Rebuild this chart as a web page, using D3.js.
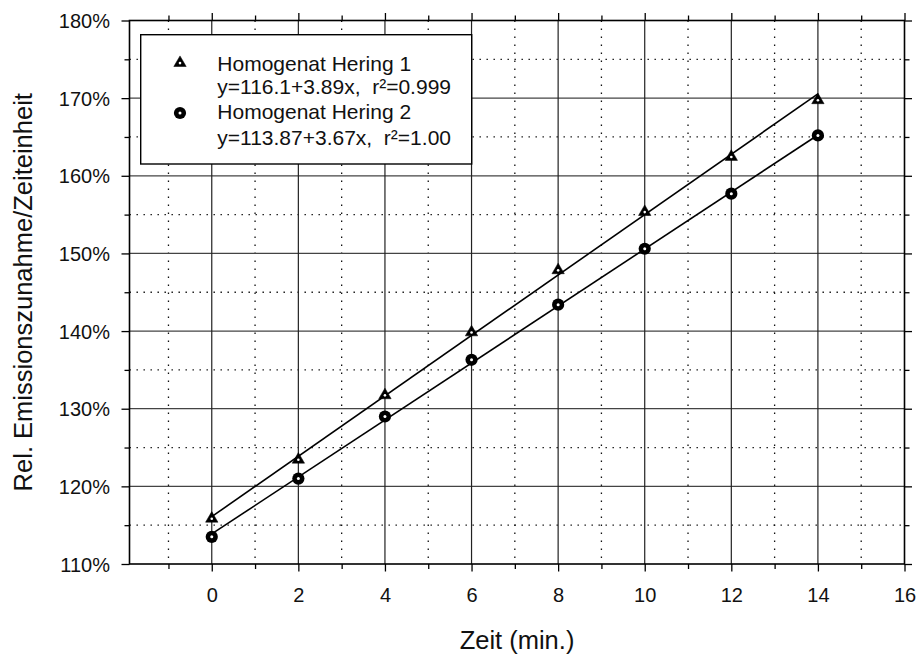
<!DOCTYPE html>
<html>
<head>
<meta charset="utf-8">
<script src="https://cdn.jsdelivr.net/npm/d3@7/dist/d3.min.js"></script>
<style>
  html, body { margin: 0; padding: 0; background: #fff; }
  svg { display: block; font-family: "Liberation Sans", Arial, sans-serif; }
  .keep-space { white-space: pre; }
</style>
</head>
<body>
<svg id="chart" width="920" height="655"></svg>
<script>
// Measurement times (min.)
const times = [0, 2, 4, 6, 8, 10, 12, 14];
// Relative emission increase per time unit (%)
const hering1 = [115.9, 123.5, 131.8, 139.9, 147.9, 155.4, 162.5, 169.8];
const hering2 = [113.5, 121.0, 129.0, 136.3, 143.4, 150.6, 157.7, 165.2];
// Linear fits y = a + b·x
const fitIntercepts = [116.1, 113.87];
const fitSlopes = [3.89, 3.67];
const seriesNames = ["Homogenat Hering 1", "Homogenat Hering 2"];
const fitLabels = ["y=116.1+3.89x,\u00A0 r\u00B2=0.999", "y=113.87+3.67x,\u00A0 r\u00B2=1.00"];
// Axis ticks
const xMajorTicks = [0, 2, 4, 6, 8, 10, 12, 14, 16];
const xMinorTicks = [-1, 1, 3, 5, 7, 9, 11, 13, 15];
const yMajorTicks = [110, 120, 130, 140, 150, 160, 170, 180];
const yMinorTicks = [115, 125, 135, 145, 155, 165, 175];
const xTitle = "Zeit (min.)";
const yTitle = "Rel. Emissionszunahme/Zeiteinheit";

const svg = d3.select("#chart");
const L = 129.5, R = 904.5, T = 20.5, B = 564;

const x = d3.scaleLinear().domain([-1.9, 16]).range([L, R]);
const y = d3.scaleLinear().domain([110, 180]).range([B, T]);

// Grid
const grid = svg.append("g");
grid.selectAll(".hmin").data(yMinorTicks).join("line")
  .attr("x1", L).attr("x2", R).attr("y1", d => y(d)).attr("y2", d => y(d))
  .attr("stroke", "#111").attr("stroke-width", 1.3).attr("stroke-dasharray", "1.4,5.6");
grid.selectAll(".vmin").data(xMinorTicks).join("line")
  .attr("y1", T).attr("y2", B).attr("x1", d => x(d)).attr("x2", d => x(d))
  .attr("stroke", "#111").attr("stroke-width", 1.3).attr("stroke-dasharray", "1.4,6.6");
grid.selectAll(".hmaj").data(yMajorTicks.filter(d => d > 110 && d < 180)).join("line")
  .attr("x1", L).attr("x2", R).attr("y1", d => y(d)).attr("y2", d => y(d))
  .attr("stroke", "#444").attr("stroke-width", 1.3);
grid.selectAll(".vmaj").data(xMajorTicks.filter(d => d < 16)).join("line")
  .attr("y1", T).attr("y2", B).attr("x1", d => x(d)).attr("x2", d => x(d))
  .attr("stroke", "#222").attr("stroke-width", 1.2);

// Axes (ticks outward on all four sides)
function styleAxis(g) {
  g.select(".domain").remove();
  g.selectAll(".tick line").attr("stroke", "#000").attr("stroke-width", 1.3);
  g.selectAll(".tick text").attr("fill", "#111");
}
const gBottom = svg.append("g").attr("transform", `translate(0,${B})`)
  .call(d3.axisBottom(x).tickValues(xMajorTicks).tickSize(7.5).tickFormat(d3.format("d")))
  .call(styleAxis);
gBottom.selectAll(".tick text").attr("y", 38).attr("dy", 0).attr("font-size", 20);
svg.append("g").attr("transform", `translate(0,${B})`)
  .call(d3.axisBottom(x).tickValues(xMinorTicks).tickSize(5).tickFormat(""))
  .call(styleAxis);
svg.append("g").attr("transform", `translate(0,${T})`)
  .call(d3.axisTop(x).tickValues(xMajorTicks).tickSize(7.5).tickFormat(""))
  .call(styleAxis);
svg.append("g").attr("transform", `translate(0,${T})`)
  .call(d3.axisTop(x).tickValues(xMinorTicks).tickSize(5).tickFormat(""))
  .call(styleAxis);
const gLeft = svg.append("g").attr("transform", `translate(${L},0)`)
  .call(d3.axisLeft(y).tickValues(yMajorTicks).tickSize(8).tickFormat(d => d + "%"))
  .call(styleAxis);
gLeft.selectAll(".tick text").attr("x", -19.5).attr("dy", "0.36em").attr("font-size", 20);
svg.append("g").attr("transform", `translate(${L},0)`)
  .call(d3.axisLeft(y).tickValues(yMinorTicks).tickSize(5).tickFormat(""))
  .call(styleAxis);
svg.append("g").attr("transform", `translate(${R},0)`)
  .call(d3.axisRight(y).tickValues(yMajorTicks).tickSize(7.5).tickFormat(""))
  .call(styleAxis);
svg.append("g").attr("transform", `translate(${R},0)`)
  .call(d3.axisRight(y).tickValues(yMinorTicks).tickSize(5).tickFormat(""))
  .call(styleAxis);

// Plot frame
svg.append("rect").attr("x", L).attr("y", T).attr("width", R - L).attr("height", B - T)
  .attr("fill", "none").attr("stroke", "#000").attr("stroke-width", 1.6);

// Fit lines
const line = d3.line().x(d => x(d[0])).y(d => y(d[1]));
[0, 1].forEach(i => {
  const xs = [times[0], times[times.length - 1]];
  svg.append("path")
    .attr("d", line(xs.map(t => [t, fitIntercepts[i] + fitSlopes[i] * t])))
    .attr("fill", "none").attr("stroke", "#000").attr("stroke-width", 1.6);
});

// Markers
const triPath = "M0,-6.6 L6.2,4.0 L-6.2,4.0 Z";
function drawTriangle(g, cx, cy) {
  g.append("path").attr("d", triPath).attr("transform", `translate(${cx},${cy})`)
    .attr("fill", "#000").attr("stroke", "#000").attr("stroke-width", 0.5);
  g.append("circle").attr("cx", cx).attr("cy", cy + 0.6).attr("r", 1.3).attr("fill", "#fff");
}
function drawCircle(g, cx, cy) {
  g.append("circle").attr("cx", cx).attr("cy", cy).attr("r", 6.1).attr("fill", "#000");
  g.append("circle").attr("cx", cx).attr("cy", cy).attr("r", 1.5).attr("fill", "#fff");
}
const marks = svg.append("g");
times.forEach((t, i) => drawTriangle(marks, x(t), y(hering1[i])));
times.forEach((t, i) => drawCircle(marks, x(t), y(hering2[i])));

// Legend
const lg = svg.append("g");
lg.append("rect").attr("x", 140.7).attr("y", 34.7).attr("width", 331).attr("height", 129.3)
  .attr("fill", "#fff").attr("stroke", "#000").attr("stroke-width", 1.4);
drawTriangle(lg, 180, 62.5);
drawCircle(lg, 180, 113);
const legendLines = [seriesNames[0], fitLabels[0], seriesNames[1], fitLabels[1]];
const baselines = [70.7, 93.6, 119.3, 145.2];
legendLines.forEach((s, i) => {
  lg.append("text").attr("class", "keep-space").attr("x", 217.3).attr("y", baselines[i])
    .attr("font-size", 21).attr("fill", "#111").text(s);
});

// Axis titles
svg.append("text").attr("x", (L + R) / 2).attr("y", 649)
  .attr("text-anchor", "middle").attr("font-size", 25.5).attr("fill", "#111").text(xTitle);
svg.append("text").attr("transform", `translate(32,${(T + B) / 2}) rotate(-90)`)
  .attr("text-anchor", "middle").attr("font-size", 25.5).attr("fill", "#111").text(yTitle);
</script>
</body>
</html>
